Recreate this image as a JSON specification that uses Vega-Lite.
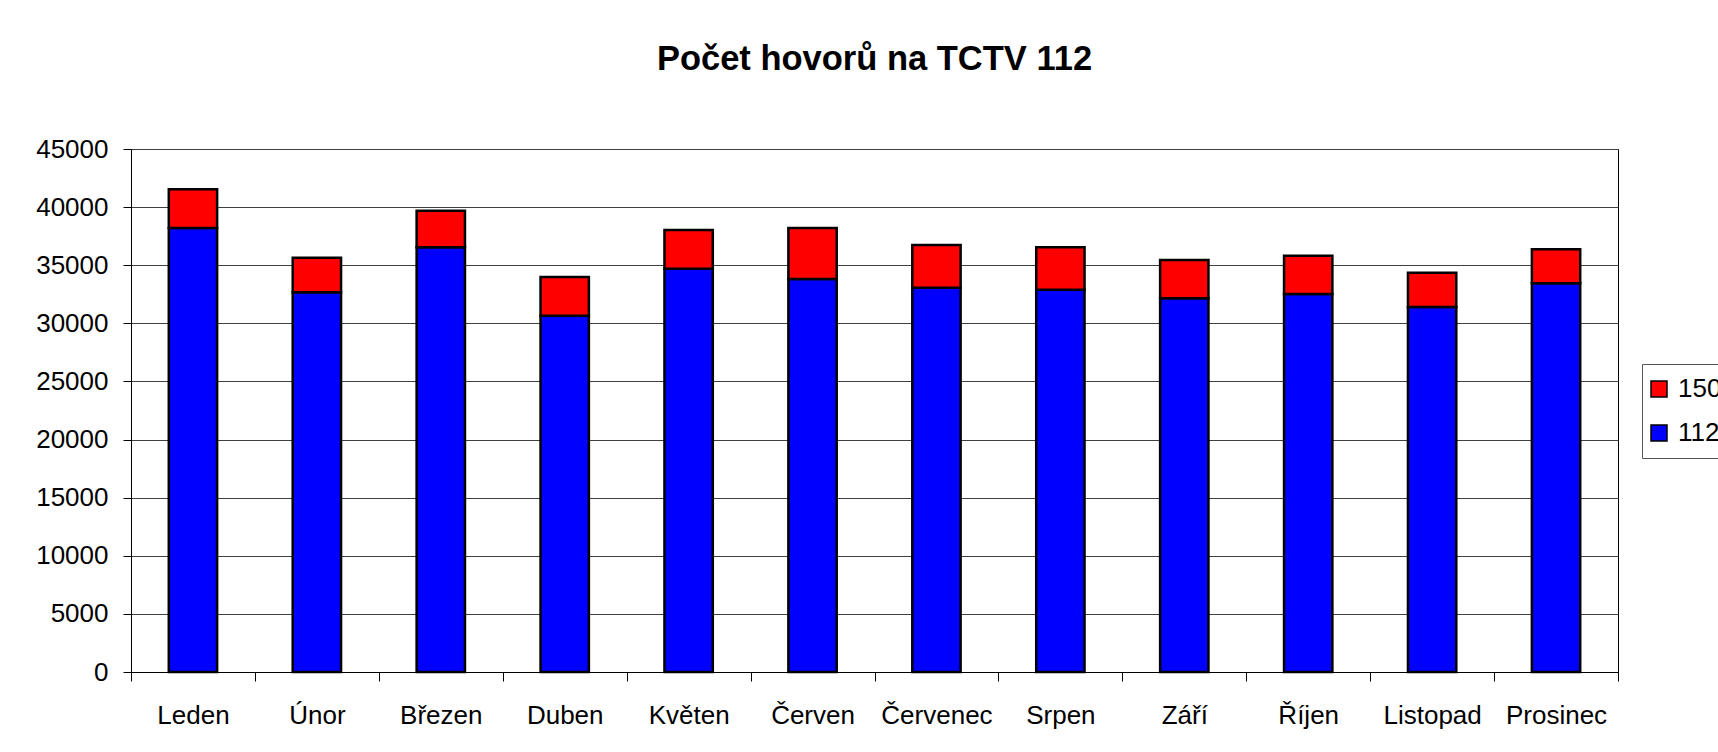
{
  "$schema": "https://vega.github.io/schema/vega-lite/v6.json",
  "autosize": "none",
  "width": 1487,
  "height": 523,
  "padding": {"left": 131, "top": 149, "right": 100, "bottom": 80},
  "background": "white",
  "title": {
    "text": "Počet hovorů na TCTV 112",
    "anchor": "middle",
    "frame": "group",
    "baseline": "alphabetic",
    "offset": 32,
    "font": "Liberation Sans",
    "fontSize": 34.5,
    "fontWeight": "bold",
    "color": "black"
  },
  "data": {
    "values": [
      {"mesic": "Leden", "series": "112", "hovory": 38200},
      {"mesic": "Leden", "series": "150", "hovory": 3330},
      {"mesic": "Únor", "series": "112", "hovory": 32670},
      {"mesic": "Únor", "series": "150", "hovory": 2980},
      {"mesic": "Březen", "series": "112", "hovory": 36540},
      {"mesic": "Březen", "series": "150", "hovory": 3150},
      {"mesic": "Duben", "series": "112", "hovory": 30660},
      {"mesic": "Duben", "series": "150", "hovory": 3330},
      {"mesic": "Květen", "series": "112", "hovory": 34700},
      {"mesic": "Květen", "series": "150", "hovory": 3330},
      {"mesic": "Červen", "series": "112", "hovory": 33820},
      {"mesic": "Červen", "series": "150", "hovory": 4390},
      {"mesic": "Červenec", "series": "112", "hovory": 33070},
      {"mesic": "Červenec", "series": "150", "hovory": 3670},
      {"mesic": "Srpen", "series": "112", "hovory": 32890},
      {"mesic": "Srpen", "series": "150", "hovory": 3650},
      {"mesic": "Září", "series": "112", "hovory": 32150},
      {"mesic": "Září", "series": "150", "hovory": 3300},
      {"mesic": "Říjen", "series": "112", "hovory": 32520},
      {"mesic": "Říjen", "series": "150", "hovory": 3300},
      {"mesic": "Listopad", "series": "112", "hovory": 31410},
      {"mesic": "Listopad", "series": "150", "hovory": 2950},
      {"mesic": "Prosinec", "series": "112", "hovory": 33450},
      {"mesic": "Prosinec", "series": "150", "hovory": 2920}
    ]
  },
  "mark": {"type": "bar", "width": {"band": 0.39}, "stroke": "black", "strokeWidth": 2.5},
  "encoding": {
    "x": {
      "field": "mesic",
      "type": "nominal",
      "sort": null,
      "title": null,
      "scale": {"paddingInner": 0, "paddingOuter": 0},
      "axis": {
        "labelAngle": 0,
        "tickBand": "extent",
        "tickSize": 9,
        "tickColor": "black",
        "domainColor": "black",
        "labelBaseline": "alphabetic",
        "labelPadding": 42,
        "labelFont": "Liberation Sans",
        "labelFontSize": 26,
        "labelColor": "black",
        "grid": false
      }
    },
    "y": {
      "field": "hovory",
      "type": "quantitative",
      "stack": "zero",
      "title": null,
      "scale": {"domain": [0, 45000], "nice": false},
      "axis": {
        "values": [0, 5000, 10000, 15000, 20000, 25000, 30000, 35000, 40000, 45000],
        "format": "d",
        "tickSize": 8,
        "tickColor": "black",
        "domainColor": "black",
        "labelPadding": 15,
        "labelFont": "Liberation Sans",
        "labelFontSize": 26,
        "labelColor": "black",
        "grid": true,
        "gridColor": "#404040",
        "gridWidth": 1
      }
    },
    "color": {
      "field": "series",
      "type": "nominal",
      "scale": {"domain": ["150", "112"], "range": ["#FF0000", "#0000FF"]},
      "legend": {
        "title": null,
        "orient": "none",
        "legendX": 1511,
        "legendY": 215,
        "symbolType": "square",
        "symbolSize": 256,
        "symbolStrokeColor": "black",
        "symbolStrokeWidth": 1.5,
        "symbolOffset": -8,
        "labelFont": "Liberation Sans",
        "labelFontSize": 26,
        "labelColor": "black",
        "labelOffset": 6,
        "rowPadding": 18,
        "padding": 12,
        "strokeColor": "#555555",
        "fillColor": "white"
      }
    },
    "order": {"field": "series", "sort": "ascending"}
  },
  "config": {
    "view": {"stroke": "black", "strokeWidth": 1}
  }
}
